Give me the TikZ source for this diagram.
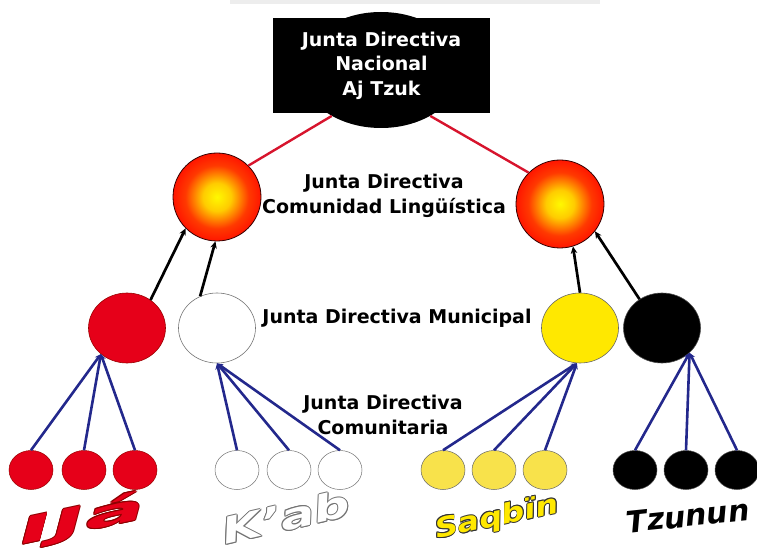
\documentclass[tikz,border=0pt]{standalone}
\usepackage{fontspec}
\setmainfont{DejaVu Sans}
\usetikzlibrary{calc,shapes.geometric,arrows.meta}
\definecolor{ijared}{RGB}{230,0,25}
\definecolor{saqyellow}{RGB}{255,232,0}
\definecolor{saqpale}{RGB}{248,226,75}
\definecolor{feedblue}{RGB}{35,40,140}
\definecolor{tiered}{RGB}{215,20,45}
\pgfdeclareradialshading{glowball}{\pgfpoint{0bp}{0bp}}{color(0bp)=(yellow!95!orange); color(8bp)=(yellow!60!orange); color(18bp)=(orange!45!red); color(28bp)=(red!95!orange); color(38bp)=(red!80!black); color(46bp)=(red!45!black); color(50bp)=(red!30!black)}

\begin{document}
\begin{tikzpicture}[x=1pt,y=-1pt,
		level/.style={font=\fontsize{19}{24.5}\selectfont\bfseries, align=center, inner sep=0pt},
		muni/.style={ellipse, draw=black!70, line width=0.6pt, minimum width=77pt, minimum height=70pt, inner sep=0pt},
		comu/.style={ellipse, draw=black!70, line width=0.5pt, minimum width=44pt, minimum height=39pt, inner sep=0pt},
		ball/.style={circle, draw=red!20!black, line width=0.8pt, minimum size=88pt, inner sep=0pt, shade, shading=glowball},
		uparrow/.style={draw=black, line width=2.7pt, -{Stealth[length=7pt,width=6.5pt]}},
		feeder/.style={draw=feedblue, line width=2.6pt, -{Stealth[length=6pt,width=6pt]}},
		tieline/.style={draw=tiered, line width=2.4pt},
		ijaword/.style={font=\fontsize{35}{35}\selectfont\bfseries\itshape, inner sep=0pt, rotate=12, xscale=2.6},
		kabword/.style={font=\fontsize{36}{36}\selectfont\bfseries\itshape, inner sep=0pt, rotate=13, xscale=1.42},
		saqword/.style={font=\fontsize{27}{27}\selectfont\bfseries\itshape, inner sep=0pt, rotate=12, xscale=1.2},
		tzuword/.style={font=\fontsize{30}{30}\selectfont\bfseries\itshape, inner sep=0pt, rotate=6}
	]
			%%%%% START %%%%%
			\useasboundingbox (0,0) rectangle (757,553);
			\fill[black!7] (230,0) rectangle (600,4);
			
			% national board
			\node[ellipse, fill=black, minimum width=160pt, minimum height=116pt] (nacoval) at (381,70) {};
			\node[fill=black, minimum width=217pt, minimum height=95pt, text=white, level] (nac) at (381.5,65.5) {Junta Directiva\\Nacional\\Aj Tzuk};
			
			% linguistic community
			\node[ball] (lingl) at (217,197) {};
			\node[ball] (lingr) at (560,204) {};
			\node[level] (linglabel) at (384,196) {Junta Directiva\\Comunidad Lingüística};
			
			\draw[tieline] (nacoval.223) -- (lingl.45);
			\draw[tieline] (nacoval.-43) -- (lingr.135);
			
			% municipal
			\node[muni, fill=ijared, draw=red!60!black] (mija) at (127,328) {};
			\node[muni, fill=white, draw=black!55] (mkab) at (217,328) {};
			\node[muni, fill=saqyellow, draw=black!60] (msaq) at (580,328) {};
			\node[muni, fill=black] (mtzu) at (662,328) {};
			\node[level] (munilabel) at (397,318) {Junta Directiva Municipal};
			
			\draw[uparrow] (mija.50) -- (lingl.225);
			\draw[uparrow] (mkab.118) -- (lingl.-92);
			\draw[uparrow] (msaq.north) -- (lingr.-73);
			\draw[uparrow] (mtzu.128) -- (lingr.-38);
			
			% community
			\node[level] (comulabel) at (383,415) {Junta Directiva\\Comunitaria};
			\foreach \x [count=\i] in {31,84,135}
				\node[comu, fill=ijared, draw=red!60!black] (cija\i) at (\x,470) {};
			\foreach \x [count=\i] in {237,289,340}
				\node[comu, fill=white, draw=black!55] (ckab\i) at (\x,470) {};
			\foreach \x [count=\i] in {443,494,545}
				\node[comu, fill=saqpale, draw=black!60] (csaq\i) at (\x,470) {};
			\foreach \x [count=\i] in {635,686,737}
				\node[comu, fill=black] (ctzu\i) at (\x,470) {};
			
			\foreach \i in {1,2,3} {
				\draw[feeder] (cija\i.north) -- (mija.-135);
				\draw[feeder] (ckab\i.north) -- (mkab.south);
				\draw[feeder] (csaq\i.north) -- (msaq.-95);
				\draw[feeder] (ctzu\i.north) -- (mtzu.-42);
			}
			
			% names
			\foreach \a in {0,45,...,315} {
				\node[ijaword, text=red!55!black] at ($(82,521)+(\a:0.9)$) {IJá};
				\node[kabword, text=black!55] at ($(286,517)+(\a:0.9)$) {K’ab};
				\node[saqword, text=black!80] at ($(497,518)+(\a:0.9)$) {Saqbïn};
			}
			\node[ijaword, text=ijared] (ija) at (82,521) {IJá};
			\node[kabword, text=white] (kab) at (286,517) {K’ab};
			\node[saqword, text=saqyellow] (saq) at (497,518) {Saqbïn};
			\node[tzuword, text=black] (tzu) at (688,516) {Tzunun};
			%%%%% END %%%%%
\end{tikzpicture}
\end{document}
